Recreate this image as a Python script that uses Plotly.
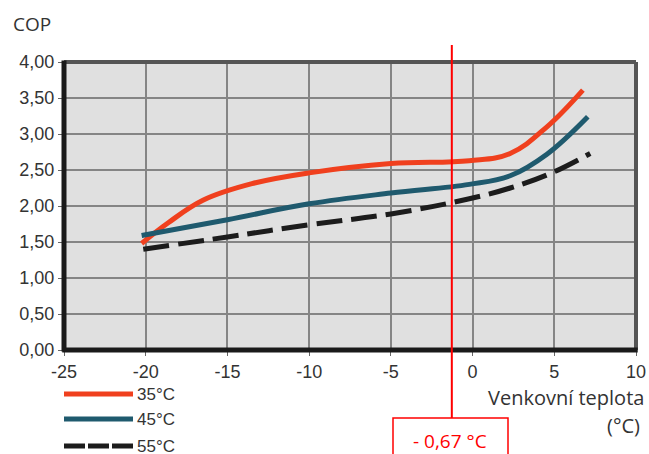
import plotly.graph_objects as go

# ---- data ----
x35 = [-20.25, -18.6, -16.5, -13.5, -10.0, -5.0, -0.2, 2.3, 4.55, 6.75]
y35 = [1.48, 1.77, 2.08, 2.31, 2.46, 2.59, 2.63, 2.73, 3.10, 3.61]
x45 = [-20.25, -15.0, -10.0, -5.0, -0.2, 2.3, 4.55, 7.05]
y45 = [1.59, 1.81, 2.03, 2.18, 2.30, 2.42, 2.72, 3.24]
x55 = [-20.15, -15.0, -10.0, -5.0, -0.2, 2.3, 4.75, 7.2]
y55 = [1.40, 1.57, 1.74, 1.89, 2.10, 2.25, 2.45, 2.73]
series_names = ["35°C", "45°C", "55°C"]
x_ticks = [-25, -20, -15, -10, -5, 0, 5, 10]
x_tick_labels = ["-25", "-20", "-15", "-10", "-5", "0", "5", "10"]
y_ticks = [0, 0.5, 1.0, 1.5, 2.0, 2.5, 3.0, 3.5, 4.0]
y_tick_labels = ["0,00", "0,50", "1,00", "1,50", "2,00", "2,50", "3,00", "3,50", "4,00"]
marker_x = -1.27
marker_label = "- 0,67 °C"

W, H = 649, 454
L, R, T, B = 64, 636, 62, 350  # plot area in pixels


def px(xp):
    return (xp - L) / (R - L)


def py(yp):
    return (B - yp) / (B - T)


RED = "#f0401e"
TEAL = "#1f5a6e"
BLACK = "#1c1c1c"
TXT = "#333333"

fig = go.Figure()
fig.add_trace(go.Scatter(x=x35, y=y35, mode="lines", name=series_names[0],
                         line=dict(color=RED, width=5, shape="spline", smoothing=1.1)))
fig.add_trace(go.Scatter(x=x45, y=y45, mode="lines", name=series_names[1],
                         line=dict(color=TEAL, width=5, shape="spline", smoothing=1.1)))
fig.add_trace(go.Scatter(x=x55, y=y55, mode="lines", name=series_names[2],
                         line=dict(color=BLACK, width=5, shape="spline", smoothing=1.1, dash="26px,9px")))

shapes = []
# frame: top/right gray, left/bottom black
shapes.append(dict(type="line", xref="paper", yref="paper", x0=0, x1=1, y0=1, y1=1,
                   line=dict(color="#555555", width=4)))
shapes.append(dict(type="line", xref="paper", yref="paper", x0=1, x1=1, y0=0, y1=1,
                   line=dict(color="#555555", width=4)))
shapes.append(dict(type="line", xref="paper", yref="paper", x0=0, x1=0, y0=-0.005, y1=1.005,
                   line=dict(color="#1a1a1a", width=5)))
shapes.append(dict(type="line", xref="paper", yref="paper", x0=-0.003, x1=1.003, y0=0, y1=0,
                   line=dict(color="#1a1a1a", width=5)))
# red marker line and box
shapes.append(dict(type="line", xref="x", yref="paper", x0=marker_x, x1=marker_x,
                   y0=py(418), y1=py(45), line=dict(color="#ff0000", width=2)))
shapes.append(dict(type="rect", xref="paper", yref="paper", x0=px(393), x1=px(508),
                   y0=py(470), y1=py(418), line=dict(color="#ff0000", width=1.5)))
# legend lines
leg_y = [394, 419, 446]
leg_style = [dict(color=RED, width=5), dict(color=TEAL, width=5),
             dict(color=BLACK, width=5, dash="21px,3px")]
for yy, st in zip(leg_y, leg_style):
    shapes.append(dict(type="line", xref="paper", yref="paper", x0=px(64), x1=px(133),
                       y0=py(yy), y1=py(yy), line=st))

annotations = []
for yy, nm in zip(leg_y, series_names):
    annotations.append(dict(x=px(135), y=py(yy), xref="paper", yref="paper", text=nm,
                            showarrow=False, xanchor="left", yanchor="middle",
                            font=dict(size=17, color=TXT, family="Liberation Sans")))
annotations.append(dict(x=px(450), y=py(441), xref="paper", yref="paper", text=marker_label,
                        showarrow=False, xanchor="center", yanchor="middle",
                        font=dict(size=19, color="#ff0000", family="Open Sans")))
annotations.append(dict(x=px(646), y=py(397), xref="paper", yref="paper", text="Venkovní teplota",
                        showarrow=False, xanchor="right", yanchor="middle",
                        font=dict(size=20, color=TXT, family="Open Sans")))
annotations.append(dict(x=px(642), y=py(425), xref="paper", yref="paper", text="(°C)",
                        showarrow=False, xanchor="right", yanchor="middle",
                        font=dict(size=20, color=TXT, family="Open Sans")))
annotations.append(dict(x=px(11), y=py(24), xref="paper", yref="paper", text="COP",
                        showarrow=False, xanchor="left", yanchor="middle",
                        font=dict(size=19, color=TXT, family="Open Sans")))

fig.update_layout(
    width=W, height=H, autosize=False,
    margin=dict(l=L, r=W - R, t=T, b=H - B, pad=0, autoexpand=False),
    paper_bgcolor="white",
    plot_bgcolor="#e0e0e0",
    showlegend=False,
    shapes=shapes,
    annotations=annotations,
    xaxis=dict(range=[-25, 10], tickvals=x_ticks, ticktext=x_tick_labels, automargin=False,
               showgrid=True, gridcolor="#858585", gridwidth=1.5, zeroline=False,
               ticks="outside", ticklen=5, tickcolor="#666666",
               tickfont=dict(size=18, color=TXT, family="Liberation Sans")),
    yaxis=dict(range=[0, 4], tickvals=y_ticks, ticktext=y_tick_labels, automargin=False,
               showgrid=True, gridcolor="#858585", gridwidth=1.5, zeroline=False,
               ticks="outside", ticklen=5, tickcolor="#666666",
               tickfont=dict(size=18, color=TXT, family="Liberation Sans")),
)

fig.write_html("out.html", config={"responsive": False, "displayModeBar": False},
               post_script="document.body.style.margin='0';document.body.style.overflow='hidden';")
